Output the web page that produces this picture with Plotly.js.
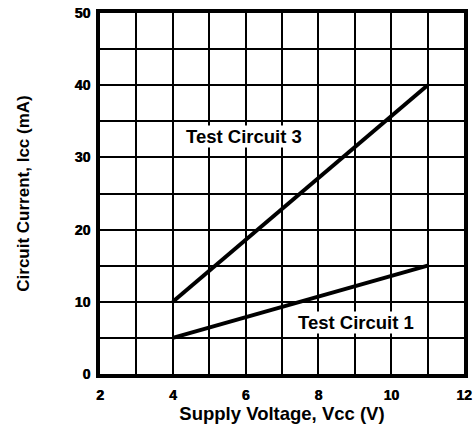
<!DOCTYPE html>
<html>
<head>
<meta charset="utf-8">
<script src="https://cdn.plot.ly/plotly-3.0.1.min.js"></script>
<style>html,body{margin:0;padding:0;background:#fff;}#chart{width:475px;height:430px;}</style>
</head>
<body>
<div id="chart"></div>
<script>
const vcc = [4, 11];
const circuit3 = [10, 40];
const circuit1 = [5, 15];
const seriesNames = ["Test Circuit 3", "Test Circuit 1"];
const labelX = [5.96, 9.03];
const labelY = [32.9, 7.1];

const font = "Liberation Sans, Arial, sans-serif";
const tickFont = {size: 14, family: font, weight: 700, color: "#000", shadow: "0.6px 0 0 #000"};
const traces = [
  {x: vcc, y: circuit3, mode: "lines", line: {color: "#000", width: 4}, name: seriesNames[0], showlegend: false},
  {x: vcc, y: circuit1, mode: "lines", line: {color: "#000", width: 4}, name: seriesNames[1], showlegend: false}
];
const layout = {
  width: 475, height: 430,
  margin: {l: 100, r: 11, t: 13, b: 56},
  paper_bgcolor: "#fff", plot_bgcolor: "#fff",
  font: {family: font, color: "#000"},
  xaxis: {
    range: [2, 12], dtick: 2, tick0: 2,
    showgrid: true, gridcolor: "#000", gridwidth: 2,
    minor: {dtick: 1, showgrid: true, gridcolor: "#000", gridwidth: 2},
    zeroline: false, showline: true, linecolor: "#000", linewidth: 4, mirror: true,
    ticks: "", ticklabelstandoff: 5, tickfont: tickFont,
    title: {text: "Supply Voltage, Vcc (V)", font: {size: 18.5, family: font, weight: 700, color: "#000"}, standoff: 6}
  },
  yaxis: {
    range: [0, 50], dtick: 10,
    showgrid: true, gridcolor: "#000", gridwidth: 2,
    minor: {dtick: 5, showgrid: true, gridcolor: "#000", gridwidth: 2},
    zeroline: false, showline: true, linecolor: "#000", linewidth: 4, mirror: true,
    ticks: "", ticklabelstandoff: 3, tickfont: tickFont,
    title: {text: "Circuit Current, Icc (mA)", font: {size: 17, family: font, weight: 700, color: "#000"}, standoff: 42}
  },
  annotations: seriesNames.map((n, i) => ({
    x: labelX[i], y: labelY[i], xref: "x", yref: "y", text: n, showarrow: false,
    font: {size: 18.5, family: font, weight: 700, color: "#000"}, bgcolor: "#fff", borderpad: 0
  }))
};
Plotly.newPlot("chart", traces, layout, {displayModeBar: false, staticPlot: true});
</script>
</body>
</html>
